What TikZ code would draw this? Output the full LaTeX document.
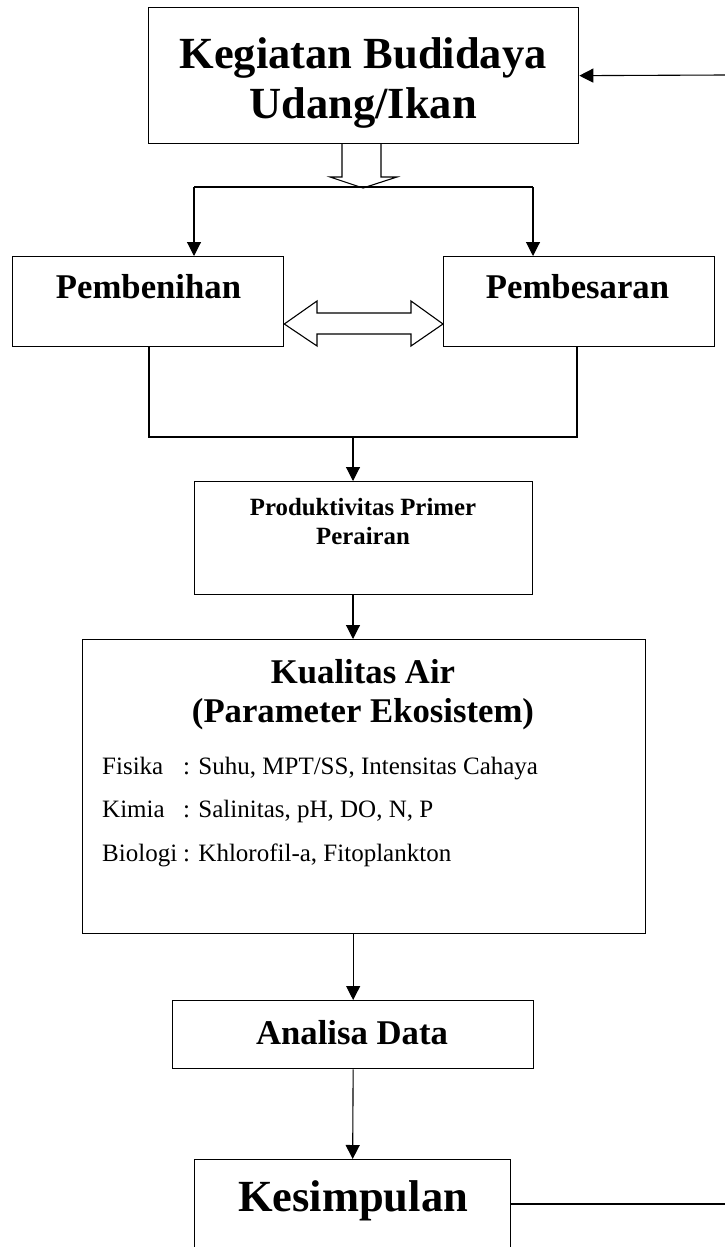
\documentclass[tikz,border=0pt]{standalone}
\usepackage{fontspec}
\setmainfont{Liberation Serif}
\usetikzlibrary{arrows.meta}
\newcommand\fntA{\fontsize{44.5}{50}\selectfont\bfseries}
\newcommand\fntB{\fontsize{34.7}{40}\selectfont\bfseries}
\newcommand\fntC{\fontsize{24.8}{30}\selectfont\bfseries}
\newcommand\fntD{\fontsize{25}{43}\selectfont}
\begin{document}
\begin{tikzpicture}[x=1pt,y=-1pt,
  box/.style={draw, line width=1.3pt, inner sep=0pt, anchor=north west},
  conn/.style={line width=1.1pt},
  arr/.style={conn, -{Triangle[length=14pt,width=14pt]}},
  hollow/.style={draw, line width=1.1pt, line join=miter},
  lbl/.style={inner sep=0pt, anchor=base},
  item/.style={inner sep=0pt, anchor=base west, font=\fntD}
]
\useasboundingbox (0,0) rectangle (725,1247);

% boxes
\node[box, minimum width=430pt, minimum height=136pt] (top) at (148,7) {};
\node[box, minimum width=271pt, minimum height=90pt] (pben) at (12,256) {};
\node[box, minimum width=271pt, minimum height=90pt] (pbes) at (443,256) {};
\node[box, minimum width=338pt, minimum height=113pt] (prod) at (194,481) {};
\node[box, minimum width=563pt, minimum height=294pt] (kual) at (82,639) {};
\node[box, minimum width=361pt, minimum height=68pt] (anal) at (172,1000) {};
\node[box, minimum width=316pt, minimum height=130pt] (kes) at (194,1159) {};

% texts
\node[lbl, font=\fntA] (topA) at (363,68) {Kegiatan Budidaya};
\node[lbl, font=\fntA] (topB) at (363,118) {Udang/Ikan};
\node[lbl, font=\fntB] (pbenT) at (148.5,298) {Pembenihan};
\node[lbl, font=\fntB] (pbesT) at (577.5,298) {Pembesaran};
\node[lbl, font=\fntC] (prodA) at (363,515) {Produktivitas Primer};
\node[lbl, font=\fntC] (prodB) at (363,544) {Perairan};
\node[lbl, font=\fntB] (kualA) at (363,683) {Kualitas Air};
\node[lbl, font=\fntB] (kualB) at (363,722) {(Parameter Ekosistem)};
\node[item] (it1) at (102,774) {\makebox[81pt][l]{Fisika}: Suhu, MPT/SS, Intensitas Cahaya};
\node[item] (it2) at (102,817) {\makebox[81pt][l]{Kimia}: Salinitas, pH, DO, N, P};
\node[item] (it3) at (102,861) {\makebox[81pt][l]{Biologi}: Khlorofil-a, Fitoplankton};
\node[lbl, font=\fntB] (analT) at (352,1044) {Analisa Data};
\node[lbl, font=\fntA] (kesT) at (353,1211) {Kesimpulan};

% coordinates
\coordinate (fbtop) at (725,75);
\coordinate (fbbot) at (725,1204);
\coordinate (sL) at (194,187);
\coordinate (sR) at (533,187);
\coordinate (jL) at (149,437);
\coordinate (jR) at (577,437);
\coordinate (jM) at (353,437);

% feedback
\draw[arr] (fbtop) -- (top.east);
\draw[conn] (kes.east |- fbbot) -- (fbbot);

% hollow arrow down
\draw[hollow] (342,143) -- (342,177) -- (330,177) -- (363,188) -- (397,177) -- (381,177) -- (381,143);

% split
\draw[conn] (sL) -- (sR);
\draw[arr] (sL) -- (sL |- pben.north);
\draw[arr] (sR) -- (sR |- pbes.north);

% double hollow arrow
\draw[hollow] (pben.east |- 0,324) -- (317,301) -- (317,313) -- (411,313) -- (411,301) -- (pbes.west |- 0,324) -- (411,346) -- (411,334) -- (317,334) -- (317,346) -- cycle;

% join
\draw[conn] (jL |- pben.south) -- (jL) -- (jR) -- (jR |- pbes.south);
\draw[arr] (jM) -- (jM |- prod.north);
\draw[arr] (prod.south -| jM) -- (kual.north -| jM);
\draw[arr] (kual.south -| anal.north) -- (anal.north);
\draw[arr] (anal.south) -- (kes.north);
\end{tikzpicture}
\end{document}
